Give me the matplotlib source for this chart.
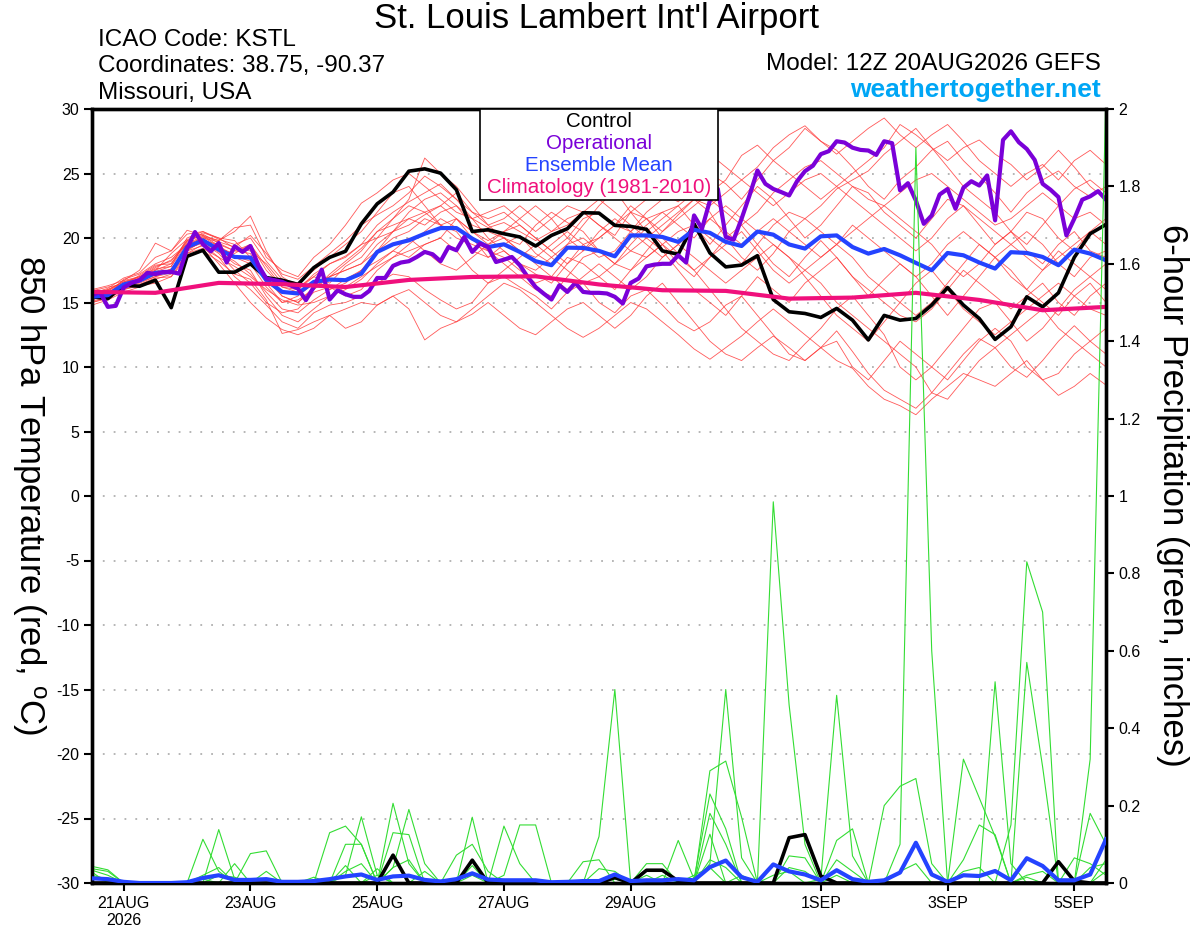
import numpy as np
import matplotlib
matplotlib.use("Agg")
import matplotlib.pyplot as plt
from matplotlib.patches import Rectangle
from matplotlib.ticker import FuncFormatter

plt.rcParams['font.family'] = ['Liberation Sans', 'DejaVu Sans']
plt.rcParams['mathtext.default'] = 'regular'
plt.rcParams['axes.unicode_minus'] = False

# ---------------------------------------------------------------
# Data (forecast hour from 12Z 20AUG2026)
# ---------------------------------------------------------------
hours = np.arange(0, 385, 6)          # 6-hourly ensemble output
hours_op = np.arange(0, 385, 3)       # 3-hourly operational run
hours_clim = np.arange(0, 385, 24)    # daily climatology

tick_hours = [12, 60, 108, 156, 204, 276, 324, 372]
tick_labels = ['21AUG\n2026', '23AUG', '25AUG', '27AUG', '29AUG', '1SEP', '3SEP', '5SEP']

control_t = [15.44, 15.3, 16.34, 16.26, 16.73, 14.6, 18.58, 19.05, 17.35, 17.35,
             18.0, 16.93, 16.73, 16.4, 17.7, 18.5, 18.97, 21.1, 22.65, 23.56,
             25.18, 25.36, 25.03, 23.74, 20.5, 20.64, 20.33, 20.08, 19.38, 20.2,
             20.72, 21.96, 21.93, 20.98, 20.9, 20.67, 19.0, 18.74, 21.1, 18.84,
             17.76, 17.9, 18.63, 15.23, 14.28, 14.15, 13.84, 14.54, 13.63, 12.1,
             14.0, 13.63, 13.76, 14.8, 16.16, 14.8, 13.76, 12.14, 13.12, 15.44,
             14.66, 15.75, 18.5, 20.33, 21.05]

mean_t = [15.44, 15.57, 16.4, 16.7, 17.3, 17.37, 19.3, 19.82, 19.1, 18.53,
          18.48, 16.73, 15.82, 15.7, 16.6, 16.78, 16.73, 17.24, 18.92, 19.51,
          19.82, 20.33, 20.77, 20.77, 19.95, 19.3, 19.51, 18.92, 18.2, 17.89,
          19.25, 19.23, 19.0, 18.58, 20.2, 20.2, 20.08, 19.7, 20.64, 20.4,
          19.7, 19.38, 20.5, 20.26, 19.5, 19.18, 20.13, 20.2, 19.3, 18.79,
          19.15, 18.66, 18.07, 17.5, 18.84, 18.66, 18.1, 17.63, 18.9, 18.84,
          18.53, 17.89, 19.1, 18.79, 18.27]

oper_t = [15.57, 15.82, 14.66, 14.74, 16.16, 16.52, 16.73, 17.3, 17.2, 17.37,
          17.37, 17.24, 19.18, 20.46, 19.51, 18.97, 19.61, 18.1, 19.36, 18.92,
          19.38, 17.89, 16.86, 16.73, 16.6, 16.34, 16.08, 15.18, 16.2, 17.55,
          15.23, 15.95, 15.64, 15.44, 15.44, 15.9, 16.9, 16.9, 17.84, 18.1,
          18.2, 18.53, 18.92, 18.74, 18.2, 19.3, 19.05, 20.08, 18.92, 19.56,
          19.3, 18.14, 18.32, 18.53, 17.89, 16.98, 16.2, 15.7, 15.23, 16.34,
          15.82, 16.52, 15.82, 15.75, 15.75, 15.7, 15.44, 14.92, 16.52, 16.86,
          17.8, 17.94, 18.0, 18.0, 18.66, 18.1, 21.75, 20.72, 22.9, 23.8,
          20.08, 19.87, 21.5, 23.3, 25.23, 24.2, 23.8, 23.56, 23.3, 24.4,
          25.18, 25.6, 26.5, 26.73, 27.5, 27.4, 27.0, 26.83, 26.78, 26.44,
          27.5, 27.35, 23.7, 24.25, 22.9, 21.1, 21.75, 23.37, 23.8, 22.27,
          23.9, 24.4, 24.07, 24.85, 21.37, 27.6, 28.27, 27.42, 26.9, 26.05,
          24.2, 23.74, 23.17, 20.2, 21.5, 22.97, 23.23, 23.63, 22.97]

clim_t = [15.82, 15.75, 16.52, 16.42, 16.2, 16.75, 16.98, 17.03, 16.4,
          15.95, 15.9, 15.3, 15.38, 15.75, 15.2, 14.4, 14.66]

# ensemble members, 850 hPa temperature
temp_m01 = [15.8, 16.0, 16.6, 17.0, 17.8, 18.2, 19.8, 20.3, 19.6, 19.0, 19.5, 17.5, 16.2,
            16.0, 17.2, 18.0, 18.6, 19.5, 21.0, 22.0, 22.8, 23.5, 24.2, 23.0, 21.5, 20.8,
            21.2, 20.5, 19.8, 20.5, 21.5, 22.0, 21.0, 20.2, 22.0, 23.0, 23.5, 22.8, 24.0,
            25.0, 24.2, 23.0, 24.5, 26.0, 27.0, 28.5, 27.5, 26.8, 25.5, 24.0, 23.0, 24.5,
            25.5, 26.8, 27.5, 26.0, 24.8, 23.5, 22.0, 23.5, 24.5, 25.2, 24.0, 23.2, 24.0]
temp_m02 = [15.0, 15.3, 16.0, 16.4, 16.9, 17.0, 18.8, 19.5, 18.5, 17.0, 16.0, 14.8, 13.5,
            13.0, 14.2, 14.8, 15.0, 15.5, 16.5, 17.2, 17.0, 16.0, 15.2, 14.5, 15.0, 16.5,
            17.0, 16.2, 15.5, 14.5, 15.8, 16.5, 15.0, 14.2, 15.5, 16.0, 14.8, 13.5, 12.8,
            13.5, 14.8, 15.5, 14.0, 12.5, 11.0, 10.5, 11.5, 12.8, 11.2, 9.5, 8.2, 7.5,
            6.8, 8.0, 9.5, 11.0, 12.2, 11.5, 10.0, 9.2, 10.5, 12.0, 13.2, 12.0, 11.0]
temp_m03 = [15.5, 15.8, 16.3, 16.8, 17.5, 18.8, 19.9, 20.1, 19.8, 20.5, 21.7, 19.0, 17.0,
            16.2, 17.0, 16.5, 17.8, 18.5, 20.0, 21.5, 23.0, 26.2, 25.0, 24.0, 22.5, 21.0,
            20.0, 19.5, 21.0, 22.0, 21.2, 20.5, 19.0, 18.0, 17.5, 19.0, 20.5, 21.8, 23.0,
            22.0, 20.0, 18.5, 17.5, 18.8, 20.5, 21.5, 22.5, 23.8, 24.5, 25.2, 26.5, 27.5,
            28.5, 27.0, 25.5, 24.0, 23.0, 22.0, 20.5, 19.5, 21.0, 22.5, 23.8, 24.5, 23.5]
temp_m04 = [15.2, 15.6, 16.8, 17.2, 18.0, 18.5, 19.5, 20.0, 19.0, 18.0, 17.5, 15.5, 14.0,
            13.5, 14.5, 15.5, 16.0, 16.8, 18.0, 19.0, 18.5, 19.5, 20.0, 21.5, 20.0, 18.5,
            19.0, 18.0, 17.2, 16.5, 18.0, 19.5, 20.0, 21.0, 22.5, 21.5, 20.0, 18.8, 17.5,
            16.0, 14.5, 13.0, 12.0, 11.0, 10.5, 11.8, 13.0, 14.5, 15.5, 14.0, 12.5, 10.0,
            9.0, 10.0, 11.5, 13.0, 14.5, 15.0, 13.5, 12.0, 13.0, 14.5, 16.0, 17.0, 16.0]
temp_m05 = [15.6, 15.9, 16.5, 17.0, 17.6, 17.8, 20.0, 20.5, 19.9, 19.5, 20.0, 18.2, 16.8,
            16.5, 17.5, 18.5, 19.5, 20.5, 22.0, 23.5, 24.0, 22.5, 21.0, 20.5, 19.0, 18.5,
            19.5, 20.2, 18.8, 18.0, 19.5, 21.0, 22.5, 23.7, 22.0, 20.5, 21.5, 22.5, 21.0,
            19.5, 21.0, 22.5, 24.0, 23.0, 21.5, 20.0, 21.0, 22.5, 24.0, 23.5, 22.0, 21.0,
            20.0, 21.5, 23.0, 22.5, 21.0, 19.5, 20.5, 22.0, 21.5, 20.0, 19.0, 20.5, 21.5]
temp_m06 = [15.3, 15.7, 16.2, 16.5, 17.0, 17.5, 19.2, 19.6, 18.8, 17.5, 16.5, 15.0, 14.2,
            14.5, 15.8, 16.2, 15.5, 16.0, 17.5, 18.5, 19.5, 20.5, 21.5, 20.8, 20.0, 19.0,
            18.0, 17.0, 16.0, 15.5, 17.0, 18.5, 19.0, 18.0, 19.5, 20.8, 19.5, 18.0, 17.0,
            18.5, 20.0, 21.0, 19.5, 18.0, 17.0, 18.5, 19.8, 18.5, 17.0, 15.5, 16.8, 18.0,
            17.0, 15.5, 14.0, 15.5, 17.0, 18.5, 17.5, 16.0, 15.0, 14.0, 15.5, 16.5, 15.0]
temp_m07 = [15.7, 16.1, 16.9, 17.3, 18.5, 19.0, 20.3, 20.5, 20.0, 19.8, 18.5, 17.0, 15.5,
            15.0, 16.2, 17.0, 17.5, 18.0, 19.5, 20.5, 21.5, 22.0, 22.5, 23.5, 22.0, 21.5,
            22.0, 21.0, 20.0, 19.0, 20.0, 21.5, 22.0, 21.0, 20.5, 22.0, 23.0, 24.5, 26.0,
            26.5, 25.5, 24.5, 25.5, 27.0, 28.0, 28.7, 27.5, 26.5, 27.5, 28.5, 29.3, 28.0,
            27.0, 28.0, 28.8, 27.5, 26.0, 25.0, 24.0, 25.0, 25.7, 24.5, 26.0, 26.8, 25.7]
temp_m08 = [15.1, 15.4, 16.0, 16.3, 16.5, 17.0, 18.5, 19.0, 18.2, 17.2, 16.8, 15.2, 12.6,
            12.9, 13.5, 14.0, 13.0, 13.5, 14.8, 15.5, 14.5, 12.1, 13.0, 13.5, 14.1, 15.0,
            14.0, 13.0, 12.5, 13.5, 14.5, 15.0, 14.0, 13.0, 14.0, 15.5, 16.5, 15.0, 13.5,
            12.0, 11.0, 10.5, 11.5, 12.4, 11.5, 10.5, 11.5, 12.0, 10.0, 9.0, 10.5, 12.0,
            11.0, 10.0, 9.0, 10.5, 12.0, 13.0, 12.0, 10.0, 9.0, 9.5, 11.0, 12.0, 13.0]
temp_m09 = [15.4, 15.5, 16.1, 16.6, 17.2, 17.6, 19.0, 19.8, 19.5, 19.0, 18.8, 16.5, 15.0,
            15.5, 16.5, 17.0, 18.0, 19.0, 20.5, 21.0, 21.5, 21.0, 22.0, 22.5, 21.0, 20.5,
            20.0, 19.0, 18.5, 19.5, 20.5, 19.5, 18.5, 19.0, 20.5, 21.5, 22.0, 21.0, 20.0,
            21.5, 22.5, 21.5, 20.5, 19.5, 18.5, 17.5, 16.5, 15.0, 14.0, 13.0, 12.0, 11.0,
            10.0, 8.0, 7.5, 9.0, 10.5, 11.5, 12.5, 13.5, 14.5, 13.0, 12.0, 11.0, 10.0]
temp_m10 = [16.0, 16.3, 16.7, 17.5, 19.6, 19.0, 20.6, 20.2, 19.8, 20.8, 21.0, 18.5, 17.5,
            17.0, 18.5, 19.5, 21.0, 22.7, 23.5, 24.5, 25.0, 24.0, 23.0, 22.0, 21.5, 22.0,
            22.5, 21.5, 20.5, 21.5, 22.5, 22.0, 21.0, 20.0, 19.0, 18.5, 19.5, 20.5, 21.0,
            20.0, 19.0, 18.0, 19.5, 21.0, 22.0, 21.5, 20.5, 19.5, 20.5, 21.5, 22.5, 21.5,
            20.5, 19.5, 18.0, 17.0, 18.0, 19.5, 20.5, 19.0, 18.0, 19.5, 20.5, 19.0, 18.5]
temp_m11 = [14.8, 15.2, 15.8, 16.2, 16.8, 17.2, 18.8, 19.2, 18.5, 17.8, 17.0, 16.0, 15.2,
            14.8, 15.0, 15.5, 16.2, 17.0, 17.8, 18.5, 19.0, 19.5, 20.0, 19.0, 17.5, 16.5,
            17.5, 18.5, 19.5, 18.5, 17.5, 16.5, 17.0, 18.0, 19.0, 20.0, 19.0, 17.5, 16.0,
            15.0, 14.0, 15.5, 17.0, 16.0, 15.0, 16.5, 17.5, 18.5, 17.0, 16.0, 15.0, 14.0,
            13.5, 14.5, 16.0, 17.5, 16.5, 15.5, 14.5, 15.5, 16.5, 15.0, 14.0, 15.5, 16.5]
temp_m12 = [15.5, 16.0, 16.6, 16.9, 17.4, 17.8, 19.6, 20.1, 19.3, 18.5, 18.0, 16.2, 15.0,
            15.2, 16.0, 17.0, 17.5, 18.0, 19.0, 20.5, 22.0, 23.0, 23.5, 22.5, 21.5, 20.0,
            19.0, 18.0, 17.5, 18.5, 19.5, 20.0, 19.0, 18.5, 20.0, 21.0, 22.0, 22.5, 23.5,
            23.0, 22.0, 21.0, 22.0, 23.5, 24.5, 25.5, 26.0, 25.0, 24.0, 23.0, 22.5, 23.5,
            24.5, 25.0, 24.0, 23.0, 22.0, 21.0, 21.5, 22.5, 23.5, 22.5, 21.5, 22.0, 21.0]
temp_m13 = [15.0, 15.4, 16.2, 16.6, 17.0, 17.3, 19.0, 19.4, 18.0, 16.5, 15.0, 13.8, 12.9,
            12.5, 13.0, 14.0, 14.5, 15.0, 14.8, 15.5, 16.0, 15.0, 14.0, 13.5, 14.5, 15.5,
            16.5, 16.0, 15.0, 14.0, 13.0, 12.3, 13.0, 14.0, 15.0, 14.5, 13.5, 12.5, 11.4,
            10.6, 11.5, 12.4, 13.5, 14.5, 13.5, 12.5, 11.5, 10.5, 9.9, 8.5, 7.5, 7.0,
            6.3, 7.5, 8.5, 9.5, 9.0, 8.5, 9.5, 10.5, 9.0, 7.8, 8.5, 9.5, 8.6]
temp_m14 = [15.9, 16.2, 16.4, 17.1, 17.9, 18.0, 19.7, 20.4, 20.0, 19.2, 19.0, 18.0, 16.5,
            16.0, 17.0, 18.0, 18.5, 19.5, 20.0, 20.5, 21.0, 21.8, 22.5, 21.5, 20.5, 19.5,
            20.5, 21.5, 22.5, 21.5, 20.0, 19.0, 20.0, 21.0, 22.0, 21.5, 20.5, 21.5, 22.5,
            23.5, 24.5, 26.4, 27.2, 26.0, 25.0, 24.0, 23.0, 24.0, 25.0, 26.0, 27.0, 28.8,
            28.0, 27.0, 26.0, 27.0, 27.6, 26.5, 25.7, 24.5, 25.5, 26.8, 25.5, 24.0, 23.0]
temp_m15 = [15.2, 15.7, 16.5, 16.8, 17.2, 17.5, 19.4, 19.9, 19.2, 18.8, 19.5, 17.8, 16.2,
            15.8, 16.5, 16.0, 16.5, 17.5, 19.0, 20.0, 20.5, 21.5, 21.0, 20.0, 19.5, 19.0,
            18.5, 17.5, 16.5, 17.0, 18.5, 18.0, 17.0, 16.0, 17.5, 18.5, 19.5, 18.5, 17.5,
            18.5, 19.5, 20.5, 19.0, 17.5, 16.5, 17.5, 18.5, 19.5, 18.5, 17.0, 16.0, 15.0,
            14.0, 15.0, 16.5, 18.0, 19.5, 18.5, 17.0, 16.0, 17.5, 19.0, 18.0, 17.0, 18.0]
temp_m16 = [15.6, 15.8, 16.4, 16.9, 17.7, 18.3, 19.5, 20.0, 19.7, 19.3, 20.2, 18.8, 17.2,
            16.8, 17.8, 18.8, 19.8, 21.0, 21.8, 22.5, 23.5, 24.8, 24.0, 23.0, 22.0, 21.0,
            21.5, 22.5, 21.5, 20.5, 21.0, 22.0, 23.0, 22.0, 21.0, 20.0, 21.0, 22.0, 23.0,
            22.5, 23.5, 24.5, 23.5, 22.5, 23.5, 24.5, 25.0, 24.0, 23.0, 22.0, 21.0, 20.0,
            19.0, 20.0, 21.5, 22.5, 21.5, 20.5, 19.5, 18.5, 17.5, 18.5, 19.5, 20.5, 19.5]
temp_m17 = [15.3, 15.6, 16.3, 16.7, 17.1, 17.6, 19.1, 19.7, 18.9, 18.2, 17.2, 15.8, 14.5,
            14.2, 15.2, 16.0, 16.8, 17.5, 18.2, 19.0, 20.0, 19.0, 18.0, 17.5, 18.5, 19.5,
            20.0, 19.0, 18.0, 17.0, 16.0, 17.0, 18.0, 17.0, 16.0, 17.0, 18.5, 19.5, 18.5,
            17.5, 16.5, 17.5, 18.5, 19.5, 18.5, 17.0, 15.5, 14.0, 13.0, 12.0, 13.5, 15.0,
            16.5, 17.5, 16.0, 14.5, 13.5, 12.5, 13.5, 14.5, 15.5, 16.5, 15.5, 14.5, 14.0]
temp_m18 = [15.4, 15.9, 16.7, 17.0, 17.5, 18.0, 19.8, 20.2, 19.4, 18.6, 18.2, 16.8, 15.5,
            15.0, 16.0, 17.2, 18.2, 19.2, 20.5, 21.5, 22.5, 22.0, 21.0, 21.5, 20.5, 19.8,
            20.5, 21.0, 20.0, 19.0, 18.0, 19.0, 20.5, 21.5, 20.5, 19.5, 18.5, 19.5, 20.5,
            21.5, 20.5, 19.5, 20.5, 21.5, 20.5, 19.5, 18.5, 19.5, 21.0, 20.0, 19.0, 18.0,
            17.0, 18.0, 19.5, 20.5, 19.5, 18.5, 19.5, 20.5, 19.5, 18.0, 17.0, 18.5, 19.0]

temp_members = [temp_m01, temp_m02, temp_m03, temp_m04, temp_m05, temp_m06,
                temp_m07, temp_m08, temp_m09, temp_m10, temp_m11, temp_m12,
                temp_m13, temp_m14, temp_m15, temp_m16, temp_m17, temp_m18]

# 6-hour precipitation (inches)
control_p = [0, 0, 0, 0, 0, 0, 0, 0, 0, 0,
             0, 0, 0, 0, 0, 0, 0, 0, 0, 0.072,
             0, 0, 0, 0, 0.059, 0, 0, 0, 0, 0,
             0, 0, 0, 0.014, 0, 0.033, 0.033, 0.005, 0, 0,
             0, 0, 0, 0, 0.117, 0.125, 0.018, 0, 0, 0,
             0, 0, 0, 0, 0, 0, 0, 0, 0, 0,
             0, 0.055, 0.005, 0, 0]

mean_p = [0.012, 0.01, 0.003, 0, 0, 0, 0.002, 0.013, 0.02, 0.008,
          0.008, 0.01, 0.003, 0.003, 0.005, 0.01, 0.017, 0.022, 0.008, 0.017,
          0.019, 0.008, 0.004, 0.01, 0.025, 0.009, 0.007, 0.007, 0.007, 0.002,
          0.003, 0.005, 0.005, 0.022, 0.005, 0.007, 0.007, 0.01, 0.007, 0.041,
          0.058, 0.015, 0.003, 0.048, 0.03, 0.022, 0.007, 0.033, 0.01, 0.003,
          0.007, 0.027, 0.104, 0.022, 0.003, 0.02, 0.018, 0.031, 0.007, 0.064,
          0.044, 0.007, 0.007, 0.022, 0.113]

prcp_m01 = [0.043, 0.034, 0, 0, 0, 0, 0, 0.113, 0.03, 0,
            0, 0, 0, 0, 0, 0, 0, 0, 0, 0.206,
            0.05, 0, 0, 0, 0, 0, 0, 0, 0, 0,
            0, 0, 0.12, 0.5, 0, 0, 0, 0, 0, 0,
            0, 0, 0, 0.985, 0.46, 0.1, 0, 0, 0, 0,
            0, 0.1, 1.9, 0.6, 0, 0, 0, 0, 0, 0,
            0, 0, 0, 0, 0.06]
prcp_m02 = [0.037, 0.03, 0, 0, 0, 0, 0, 0, 0.138, 0.01,
            0, 0, 0, 0, 0, 0, 0.02, 0.171, 0.02, 0,
            0, 0, 0, 0, 0.17, 0, 0, 0, 0, 0,
            0, 0, 0, 0, 0, 0, 0, 0, 0, 0.05,
            0.5, 0.065, 0, 0, 0, 0, 0, 0, 0, 0,
            0, 0, 0, 0, 0, 0, 0, 0, 0.15, 0.83,
            0.70, 0, 0, 0.32, 2.05]
prcp_m03 = [0.033, 0.02, 0, 0, 0, 0, 0, 0, 0, 0,
            0.076, 0.083, 0, 0, 0, 0, 0, 0, 0, 0,
            0, 0, 0, 0, 0, 0, 0.02, 0.15, 0.15, 0,
            0, 0, 0, 0, 0, 0, 0, 0, 0, 0.29,
            0.315, 0.17, 0, 0, 0, 0, 0, 0, 0, 0,
            0, 0, 0, 0, 0, 0, 0, 0.52, 0.05, 0,
            0, 0, 0, 0, 0]
prcp_m04 = [0.028, 0, 0, 0, 0, 0, 0, 0, 0, 0,
            0, 0, 0, 0, 0, 0.13, 0.147, 0.1, 0, 0.04,
            0.19, 0.05, 0, 0, 0, 0, 0, 0, 0, 0,
            0, 0, 0, 0, 0, 0, 0, 0, 0, 0,
            0, 0, 0, 0, 0, 0, 0.01, 0.485, 0.07, 0,
            0, 0, 0, 0, 0, 0.32, 0.22, 0.12, 0, 0,
            0, 0, 0, 0, 0]
prcp_m05 = [0.02, 0.01, 0, 0, 0, 0, 0, 0, 0, 0.05,
            0, 0, 0, 0, 0, 0, 0.1, 0.1, 0, 0.13,
            0.125, 0, 0, 0, 0, 0, 0.147, 0.05, 0, 0,
            0, 0, 0, 0, 0, 0, 0, 0.11, 0.01, 0.23,
            0.14, 0, 0, 0, 0, 0, 0, 0, 0, 0,
            0, 0, 0, 0, 0, 0, 0, 0, 0, 0.57,
            0.3, 0, 0, 0, 0]
prcp_m06 = [0, 0, 0, 0, 0, 0, 0, 0.02, 0.04, 0,
            0, 0, 0, 0, 0, 0, 0, 0, 0, 0,
            0, 0, 0, 0.072, 0.1, 0.03, 0, 0, 0, 0,
            0, 0, 0.037, 0.03, 0, 0, 0, 0, 0, 0.18,
            0.1, 0, 0, 0, 0, 0, 0, 0, 0, 0,
            0.2, 0.25, 0.27, 0.05, 0, 0, 0, 0, 0, 0,
            0, 0, 0, 0.18, 0.1]
prcp_m07 = [0, 0, 0, 0, 0, 0, 0, 0, 0, 0,
            0, 0.03, 0, 0, 0, 0, 0.045, 0, 0.037, 0,
            0, 0, 0, 0, 0.045, 0, 0, 0, 0, 0,
            0, 0.055, 0.06, 0, 0, 0.05, 0.05, 0, 0, 0.126,
            0, 0, 0, 0, 0, 0, 0, 0.11, 0.14, 0,
            0, 0, 0, 0, 0, 0.06, 0.15, 0.125, 0, 0,
            0, 0, 0, 0, 0]
prcp_m08 = [0, 0, 0, 0, 0, 0, 0, 0.01, 0, 0,
            0, 0, 0, 0, 0.015, 0, 0, 0, 0.02, 0,
            0, 0.03, 0, 0, 0, 0, 0, 0, 0, 0,
            0, 0, 0, 0, 0, 0.02, 0, 0, 0, 0,
            0, 0, 0, 0, 0.07, 0.065, 0, 0.06, 0.03, 0,
            0, 0, 0, 0, 0, 0, 0, 0, 0, 0,
            0, 0, 0.065, 0.05, 0.02]
prcp_m09 = [0, 0, 0, 0, 0, 0, 0, 0, 0.02, 0.015,
            0, 0, 0, 0, 0, 0, 0.03, 0.05, 0, 0.04,
            0.06, 0, 0, 0, 0.02, 0, 0, 0, 0, 0,
            0, 0, 0, 0.02, 0, 0, 0.02, 0, 0, 0.06,
            0.04, 0, 0, 0.02, 0.03, 0, 0, 0, 0, 0,
            0, 0.03, 0.05, 0, 0, 0, 0, 0, 0, 0.02,
            0.03, 0, 0, 0.04, 0.05]
prcp_m10 = [0, 0, 0, 0, 0, 0, 0, 0, 0, 0,
            0, 0, 0, 0, 0, 0, 0, 0, 0, 0,
            0, 0, 0, 0, 0, 0, 0, 0, 0, 0,
            0.005, 0, 0, 0.01, 0, 0, 0, 0, 0.02, 0.04,
            0, 0.02, 0, 0, 0.04, 0.03, 0, 0.02, 0, 0,
            0, 0, 0, 0, 0, 0.03, 0.04, 0, 0, 0.015,
            0, 0, 0, 0, 0.03]

prcp_members = [prcp_m01, prcp_m02, prcp_m03, prcp_m04, prcp_m05,
                prcp_m06, prcp_m07, prcp_m08, prcp_m09, prcp_m10]

# ---------------------------------------------------------------
# Figure
# ---------------------------------------------------------------
fig = plt.figure(figsize=(12, 9.27), dpi=100)
ax = fig.add_axes([92 / 1200, 44 / 927, 1014 / 1200, 774 / 927])
ax2 = ax.twinx()

# temperature
for m in temp_members:
    ax.plot(hours, m, color='#ff3b3b', lw=0.6, alpha=0.85, zorder=2)
ax.plot(hours, control_t, color='black', lw=2.6, zorder=4)
ax.plot(hours, mean_t, color='#2443ff', lw=3.0, zorder=5)
ax.plot(hours_op, oper_t, color='#7a00d8', lw=3.0, zorder=6)
ax.plot(hours_clim, clim_t, color='#f0107c', lw=3.0, zorder=7)

ax.set_xlim(0, 384)
ax.set_ylim(-30, 30)
ax.set_yticks(np.arange(-30, 31, 5))
for v in range(-25, 30, 5):
    ax.axhline(v, color='#b0b0b0', lw=1.3, ls=(0, (1, 5)), zorder=1)

ax.set_xticks(tick_hours)
ax.set_xticklabels(tick_labels)
ax.tick_params(axis='both', direction='out', length=6, width=1.5, labelsize=11.5,
               pad=3)

# precipitation
for m in prcp_members:
    ax2.plot(hours, m, color='#33dd33', lw=0.8, zorder=2)
ax2.plot(hours, control_p, color='black', lw=2.6, zorder=4)
ax2.plot(hours, mean_p, color='#2443ff', lw=3.0, zorder=5)
ax2.set_ylim(0, 2)
ax2.set_yticks(np.arange(0, 2.01, 0.2))
ax2.yaxis.set_major_formatter(FuncFormatter(lambda v, p: '%g' % round(v, 1)))
ax2.tick_params(axis='y', direction='out', length=6, width=1.5, labelsize=11.5, pad=3)

for a in (ax, ax2):
    for s in a.spines.values():
        s.set_linewidth(2.4)

# axis titles, both read top to bottom
fig.text(29 / 1200, 1 - 495 / 927, '850 hPa Temperature (red, $^{o}$C)', fontsize=25,
         rotation=-90, ha='center', va='center')
fig.text(1172 / 1200, 1 - 495 / 927, '6-hour Precipitation (green, inches)', fontsize=25,
         rotation=-90, ha='center', va='center')

# legend box
ax2.add_patch(Rectangle((0.3826, 0.8824), 0.2348, 0.1176, transform=ax2.transAxes,
                        facecolor='white', edgecolor='black', lw=1.2, zorder=20,
                        clip_on=False))
leg_items = [('Control', 'black'), ('Operational', '#7a00d8'),
             ('Ensemble Mean', '#2443ff'), ('Climatology (1981-2010)', '#f0107c')]
for i, (name, col) in enumerate(leg_items):
    ax2.text(0.5, 0.984 - i * 0.0283, name, color=col, fontsize=14.8, ha='center',
             va='center', transform=ax2.transAxes, zorder=21)

# header texts
fig.text(0.4975, 0.980, "St. Louis Lambert Int'l Airport", fontsize=25,
         ha='center', va='center')
fig.text(98 / 1200, 1 - 40 / 927, 'ICAO Code: KSTL', fontsize=17.5, va='center')
fig.text(98 / 1200, 1 - 66 / 927, 'Coordinates: 38.75, -90.37', fontsize=17.5, va='center')
fig.text(98 / 1200, 1 - 93 / 927, 'Missouri, USA', fontsize=17.5, va='center')
fig.text(1101 / 1200, 1 - 64 / 927, 'Model: 12Z 20AUG2026 GEFS', fontsize=17.5,
         ha='right', va='center')
fig.text(1101 / 1200, 1 - 90 / 927, 'weathertogether.net', fontsize=19,
         fontweight='bold', color='#00a6f5', ha='right', va='center')

fig.savefig('out.png', dpi=100)
